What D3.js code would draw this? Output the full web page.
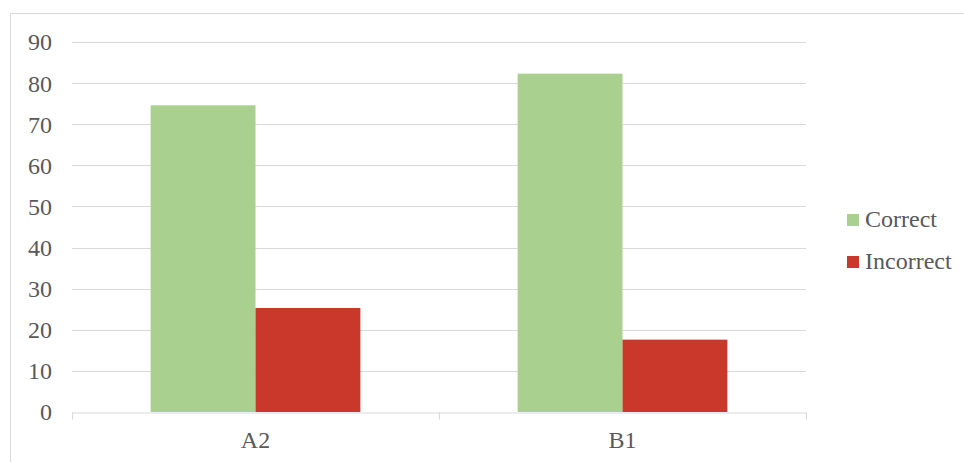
<!DOCTYPE html>
<html>
<head>
<meta charset="utf-8">
<script src="https://cdn.jsdelivr.net/npm/d3@7"></script>
<style>
  body { margin: 0; background: #fff; }
  text { font-family: "Liberation Serif", "Times New Roman", serif; fill: #595959; }
</style>
</head>
<body>
<div id="chart"></div>
<script>
// data
const categories = ["A2", "B1"];
const seriesNames = ["Correct", "Incorrect"];
const correctValues = [74.6, 82.3];
const incorrectValues = [25.3, 17.6];
const yTicks = [0, 10, 20, 30, 40, 50, 60, 70, 80, 90];
const colors = ["#A9D08E", "#C9382A"];

const width = 964;
const height = 462;
const plot = {left: 72, right: 806, top: 42, bottom: 412};
const fontSize = "24px";

const svg = d3.select("#chart")
    .append("svg")
    .attr("width", width)
    .attr("height", height);

// chart border
svg.append("rect")
    .attr("x", 10.5)
    .attr("y", 13.5)
    .attr("width", 960)
    .attr("height", 460)
    .attr("fill", "none")
    .attr("stroke", "#d9d9d9")
    .attr("stroke-width", 1);

const yScale = d3.scaleLinear()
    .domain([0, 90])
    .range([plot.bottom, plot.top]);

const x0 = d3.scaleBand()
    .domain(categories)
    .range([plot.left, plot.right])
    .padding(0);

const x1 = d3.scaleBand()
    .domain(seriesNames)
    .range([0, x0.bandwidth()])
    .paddingInner(0)
    .paddingOuter(0.75);

// gridlines
svg.append("g")
    .selectAll("line")
    .data(yTicks.filter(d => d > 0))
    .enter()
    .append("line")
    .attr("x1", plot.left)
    .attr("x2", plot.right)
    .attr("y1", d => Math.round(yScale(d)) + 0.5)
    .attr("y2", d => Math.round(yScale(d)) + 0.5)
    .attr("stroke", "#d9d9d9")
    .attr("stroke-width", 1.2);

// y labels
svg.append("g")
    .selectAll("text")
    .data(yTicks)
    .enter()
    .append("text")
    .attr("x", 52)
    .attr("y", d => yScale(d))
    .attr("dy", "0.35em")
    .attr("text-anchor", "end")
    .style("font-size", fontSize)
    .text(d => d);

const rows = categories.map((c, i) => ({
    category: c,
    values: [
        {series: seriesNames[0], value: correctValues[i]},
        {series: seriesNames[1], value: incorrectValues[i]}
    ]
}));

// bars
svg.append("g")
    .selectAll("g")
    .data(rows)
    .enter()
    .append("g")
    .attr("transform", d => `translate(${x0(d.category)},0)`)
    .selectAll("rect")
    .data(d => d.values)
    .enter()
    .append("rect")
    .attr("x", d => x1(d.series))
    .attr("y", d => yScale(d.value))
    .attr("width", x1.bandwidth())
    .attr("height", d => yScale(0) - yScale(d.value))
    .attr("fill", (d, i) => colors[i]);

// x axis
const xAxis = d3.axisBottom(x0).tickSize(0).tickPadding(18);
const xg = svg.append("g")
    .attr("transform", `translate(0,${Math.round(yScale(0)) + 0.5})`)
    .call(xAxis);
xg.select(".domain").attr("stroke", "#d9d9d9").attr("stroke-width", 1.2);
xg.selectAll("text")
    .style("font-size", fontSize)
    .style("font-family", "Liberation Serif, serif")
    .attr("fill", "#595959");

// category boundary ticks
const bounds = [plot.left].concat(categories.map(c => x0(c) + x0.bandwidth()));
xg.selectAll(".bound")
    .data(bounds)
    .enter()
    .append("line")
    .attr("class", "bound")
    .attr("x1", d => Math.round(d) + 0.5)
    .attr("x2", d => Math.round(d) + 0.5)
    .attr("y1", 0)
    .attr("y2", 7)
    .attr("stroke", "#d9d9d9")
    .attr("stroke-width", 1.2);

// legend
const legend = svg.append("g")
    .selectAll("g")
    .data(seriesNames)
    .enter()
    .append("g")
    .attr("transform", (d, i) => `translate(847,${214 + i * 42})`);

legend.append("rect")
    .attr("width", 12)
    .attr("height", 12)
    .attr("fill", (d, i) => colors[i]);

legend.append("text")
    .attr("x", 18)
    .attr("y", 13)
    .style("font-size", fontSize)
    .text(d => d);
</script>
</body>
</html>
